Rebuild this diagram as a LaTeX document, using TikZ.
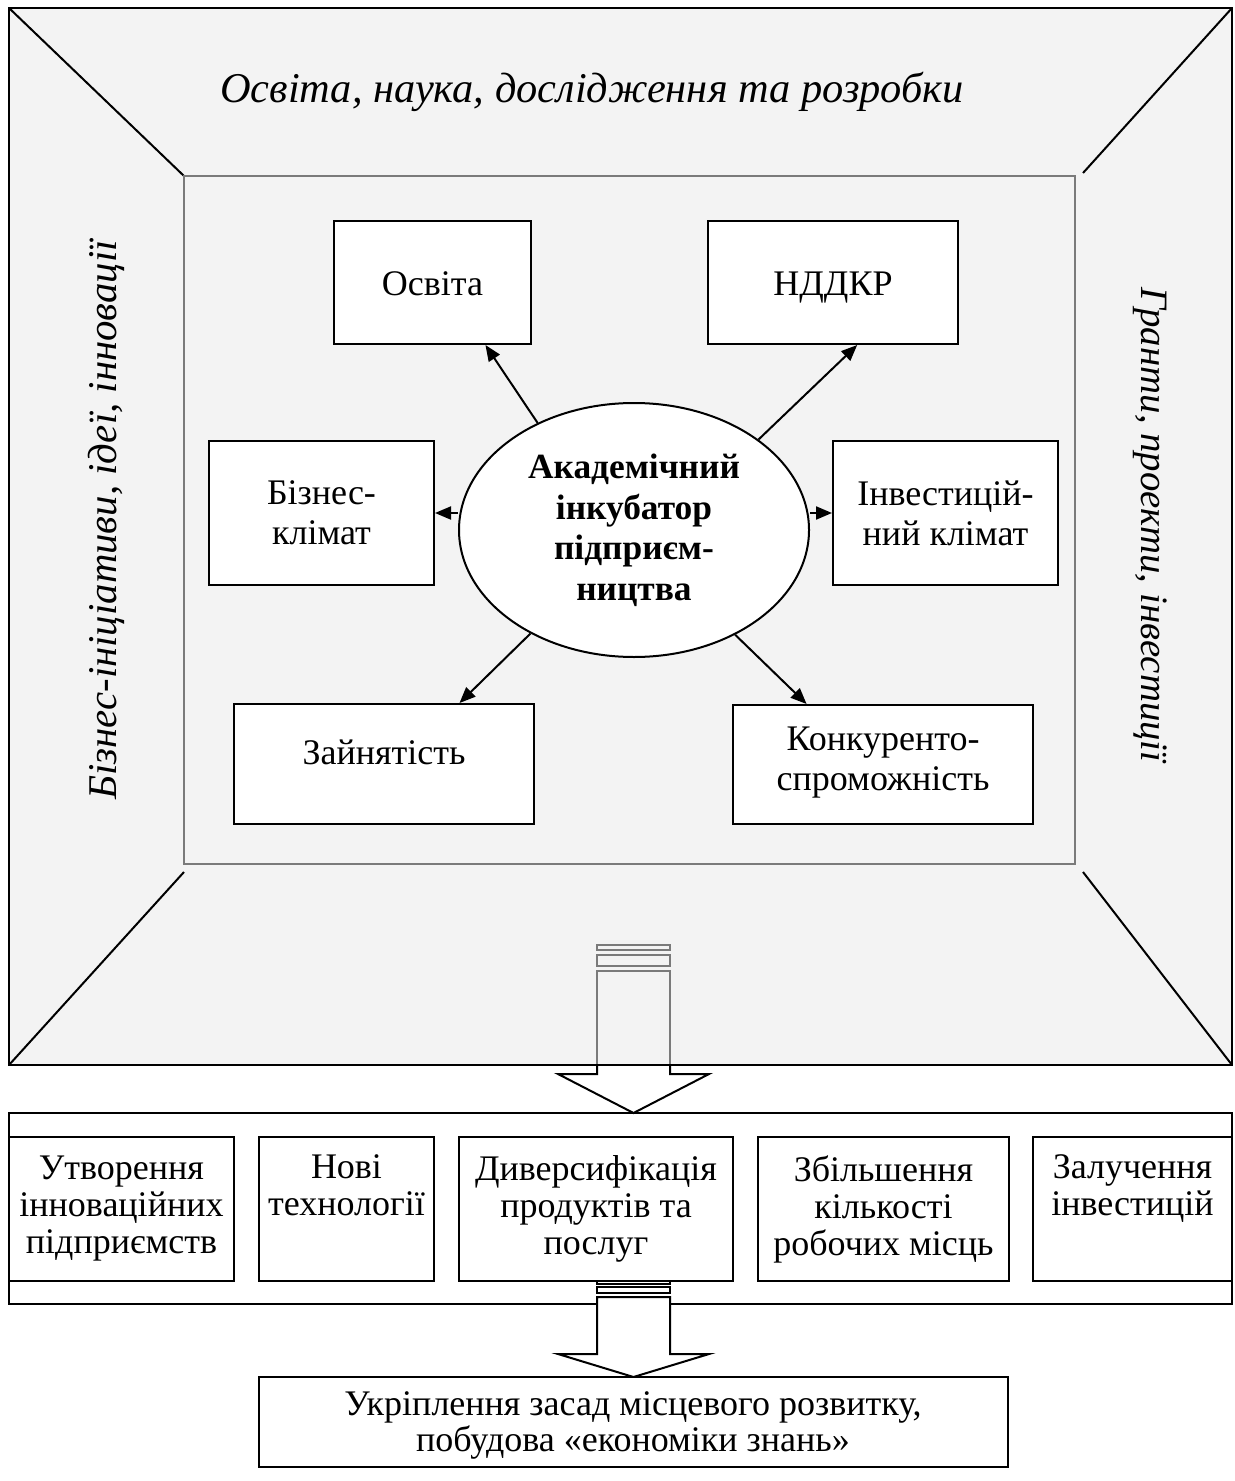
\documentclass[tikz,border=0pt]{standalone}
\usepackage{fontspec}
\setmainfont{Liberation Serif}
\usetikzlibrary{arrows.meta,calc,shapes.geometric}
\definecolor{panel}{HTML}{F3F3F3}
\definecolor{rim}{HTML}{7A7A7A}
\begin{document}
\begin{tikzpicture}[x=0.5pt,y=-0.5pt,
  card/.style={draw=black,line width=1pt,fill=white,inner sep=0pt,align=center,
    font=\fontsize{18}{20}\selectfont},
  rowcard/.style={card,font=\fontsize{18}{18.5}\selectfont},
  link/.style={line width=1pt,-{Triangle[length=8pt,width=6.5pt]}},
  side/.style={inner sep=0pt,font=\fontsize{20}{24}\selectfont\itshape},
  edge/.style={line width=1pt,black},
]
\useasboundingbox (0,0) rectangle (1235,1481);

% ---------- outer frame with bevelled corners ----------
\fill[panel] (9,8) rectangle (1232,1065);
\draw[edge] (9,8) -- (184,176);
\draw[edge] (1232,8) -- (1083,173);
\draw[edge] (184,872) -- (9,1065);
\draw[edge] (1083,872) -- (1232,1065);
\draw[draw=rim,line width=1pt] (184,176) rectangle (1075,864);

% ---------- frame captions ----------
\node[side,font=\fontsize{21.2}{24}\selectfont\itshape] (top) at (592,92)
  {Освіта, наука, дослідження та розробки};
\node[side,font=\fontsize{20.4}{24}\selectfont\itshape,rotate=90] (left) at (106,520)
  {Бізнес-ініціативи, ідеї, інновації};
\node[side,font=\fontsize{19.4}{24}\selectfont\itshape,rotate=-90] (right) at (1150,525)
  {Гранти, проекти, інвестиції};

% ---------- centre ----------
\node[draw,ellipse,line width=1pt,fill=white,inner sep=0pt,align=center,
      minimum width=175pt,minimum height=127pt,text depth=3pt,
      font=\fontsize{17.7}{20.25}\selectfont\bfseries] (core) at (634,530)
      {Академічний\\інкубатор\\підприєм-\\ництва};

\node[card,minimum width=98.5pt,minimum height=61.5pt,text height=16pt,text depth=3pt] (edu) at (432.5,282.5) {Освіта};
\node[card,minimum width=125pt,minimum height=61.5pt,text height=16pt,text depth=3pt] (rnd) at (833,282.5) {НДДКР};
\node[card,minimum width=112.5pt,minimum height=72pt] (biz) at (321.5,513) {Бізнес-\\клімат};
\node[card,minimum width=112.5pt,minimum height=72pt] (inv) at (945.5,513) {Інвестицій-\\ний клімат};
\node[card,minimum width=150pt,minimum height=60pt,text depth=12pt] (job) at (384,764) {Зайнятість};
\node[card,minimum width=150pt,minimum height=59.5pt,text depth=6pt] (cmp) at (883,764.5) {Конкуренто-\\спроможність};

\draw[link] (core.132) -- ($(edu.south west)!0.766!(edu.south east)$);
\draw[link] (core.36) -- ($(rnd.south west)!0.596!(rnd.south east)$);
\draw[link] (core.west |- biz.east) -- (biz.east);
\draw[link] (core.east |- inv.west) -- (inv.west);
\draw[link] (core.225) -- ($(job.north west)!0.75!(job.north east)$);
\draw[link] (core.314) -- ($(cmp.north west)!0.247!(cmp.north east)$);

% ---------- first block arrow ----------
\draw[edge,fill=white] (597,1065) -- (597,1074) -- (558,1074) -- (633.5,1113)
  -- (709,1074) -- (670,1074) -- (670,1065);
\draw[draw=rim,line width=1pt,fill=panel] (597,1065) -- (597,971) -- (670,971) -- (670,1065);
\draw[draw=rim,line width=1pt] (597,945) rectangle (670,950);
\draw[draw=rim,line width=1pt] (597,955) rectangle (670,966);
\draw[edge] (9,8) rectangle (1232,1065);

% ---------- results band ----------
\draw[edge] (9,1113) rectangle (1232,1304);
\node[rowcard,minimum width=112.5pt,minimum height=72pt] (r1) at (121.5,1209)
  {Утворення\\інноваційних\\підприємств};
\node[rowcard,minimum width=87.5pt,minimum height=72pt] (r2) at (346.5,1209)
  {Нові\\технології\\\strut};
\node[rowcard,minimum width=137pt,minimum height=72pt] (r3) at (596,1209)
  {Диверсифікація\\продуктів та\\послуг};
\node[rowcard,minimum width=125.5pt,minimum height=72pt] (r4) at (883.5,1209)
  {Збільшення\\кількості\\робочих місць};
\node[rowcard,minimum width=99.5pt,minimum height=72pt] (r5) at (1132.5,1209)
  {Залучення\\інвестицій\\\strut};

% ---------- second block arrow ----------
\draw[edge] (597,1281) rectangle (670,1284);
\draw[edge] (597,1287) rectangle (670,1293);
\draw[edge,fill=white] (597,1297) -- (597,1354) -- (558,1354) -- (633.5,1377)
  -- (709,1354) -- (670,1354) -- (670,1297) -- cycle;

% ---------- outcome ----------
\node[card,minimum width=374.5pt,minimum height=45pt,text depth=0pt,
      font=\fontsize{18}{18}\selectfont]
  (goal) at (633,1422) {Укріплення засад місцевого розвитку,\\побудова «економіки знань»};
\end{tikzpicture}
\end{document}
